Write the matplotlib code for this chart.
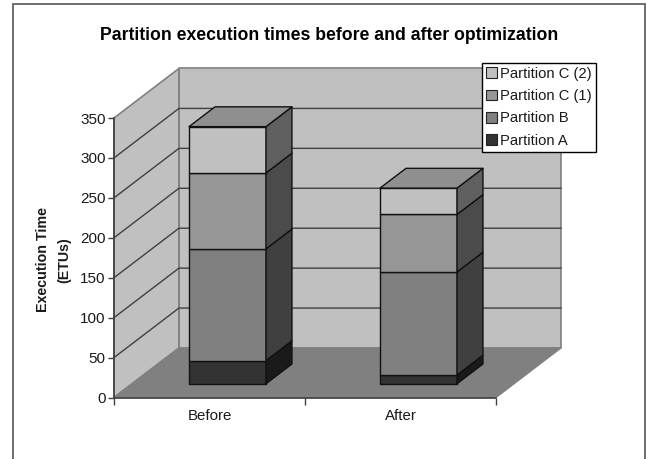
import matplotlib
matplotlib.use("Agg")
import matplotlib.pyplot as plt
from matplotlib.patches import Patch, Rectangle

plt.rcParams['font.family'] = ['Liberation Sans', 'DejaVu Sans']

title = "Partition execution times before and after optimization"
categories = ["Before", "After"]
series_names = ["Partition A", "Partition B", "Partition C (1)", "Partition C (2)"]
partition_a = [29, 11]
partition_b = [140, 129]
partition_c1 = [95, 72]
partition_c2 = [58, 33]
yticks = [0, 50, 100, 150, 200, 250, 300, 350]

front_colors = ["#333333", "#808080", "#969696", "#c0c0c0"]
side_colors = ["#1a1a1a", "#404040", "#4b4b4b", "#606060"]
top_color = "#8f8f8f"
wall_color = "#c0c0c0"
floor_color = "#808080"
text_color = "#1a1a1a"

# oblique depth, in x and y axis units for a depth of 1
DX = 0.34
DY = 62.0
bar_width = 0.403
d_front = 0.277
d_back = 0.677


def proj(x, y, d):
    return x + d * DX, y + d * DY


def face(ax, pts, color, ec, lw=1.0, z=2):
    ax.fill([p[0] for p in pts], [p[1] for p in pts], facecolor=color, edgecolor=ec,
            linewidth=lw, clip_on=False, zorder=z, joinstyle='round')


fig = plt.figure(figsize=(6.48, 4.59), dpi=100, facecolor="white")

# outer chart border, runs off the bottom of the picture
fig.add_artist(Rectangle((12.7 / 648, -0.05), 632 / 648, 1.041, transform=fig.transFigure,
                         fill=False, edgecolor="#555555", linewidth=1.2))

ax = fig.add_axes([114 / 648, (459 - 397.5) / 459, 382 / 648, 279.5 / 459])
ax.patch.set_alpha(0)
ax.set_xlim(0, 2)
ax.set_ylim(0, 350)
ymax = yticks[-1]

# walls and floor
face(ax, [proj(0, 0, 1), proj(2, 0, 1), proj(2, ymax, 1), proj(0, ymax, 1)], wall_color, "#808080", 1.2, 1)
face(ax, [proj(0, 0, 0), proj(0, 0, 1), proj(0, ymax, 1), proj(0, ymax, 0)], wall_color, "#808080", 1.2, 1)
face(ax, [proj(0, 0, 0), proj(2, 0, 0), proj(2, 0, 1), proj(0, 0, 1)], floor_color, "#808080", 1.0, 1.2)

for v in yticks[1:-1]:
    x0, y0 = proj(0, v, 0)
    x1, y1 = proj(0, v, 1)
    x2, y2 = proj(2, v, 1)
    ax.plot([x0, x1, x2], [y0, y1, y2], color="#404040", lw=1.0, clip_on=False, zorder=1.5)

# stacked 3d bars
stacks = [partition_a, partition_b, partition_c1, partition_c2]
for i in range(len(categories)):
    left = i + 0.5 - bar_width / 2
    right = i + 0.5 + bar_width / 2
    base = 0
    for s, values in enumerate(stacks):
        top = base + values[i]
        face(ax, [proj(left, base, d_front), proj(right, base, d_front),
                  proj(right, top, d_front), proj(left, top, d_front)], front_colors[s], "#111111")
        face(ax, [proj(right, base, d_front), proj(right, base, d_back),
                  proj(right, top, d_back), proj(right, top, d_front)], side_colors[s], "#111111")
        base = top
    face(ax, [proj(left, base, d_front), proj(right, base, d_front),
              proj(right, base, d_back), proj(left, base, d_back)], top_color, "#111111")

for side in ["top", "right"]:
    ax.spines[side].set_visible(False)
for side in ["left", "bottom"]:
    ax.spines[side].set_color("#404040")
    ax.spines[side].set_linewidth(1.2)
    ax.spines[side].set_zorder(3)

ax.set_yticks(yticks)
ax.tick_params(axis='y', length=4, width=1, color="#404040", labelcolor=text_color, labelsize=11, pad=2)
ax.set_xticks([0, 1, 2])
ax.set_xticklabels([])
ax.tick_params(axis='x', which='major', length=5, width=1, color="#404040")
ax.set_xticks([0.5, 1.5], categories, minor=True)
ax.tick_params(axis='x', which='minor', length=0, labelsize=10.8, labelcolor=text_color, pad=8)

fig.text(329 / 648, 1 - 35 / 459, title, ha='center', va='center', fontsize=12.7, fontweight='bold', color="black")
fig.text(53.5 / 648, 1 - 260 / 459, "Execution Time\n(ETUs)", rotation=90, ha='center', va='center',
         multialignment='center', fontsize=10.3, fontweight='bold', color=text_color, linespacing=1.6)

handles = [Patch(facecolor=c, edgecolor="#222222", linewidth=0.8) for c in front_colors]
leg = fig.legend(handles[::-1], series_names[::-1], loc='upper left',
                 bbox_to_anchor=(482 / 648, 1 - 63 / 459), frameon=True, fancybox=False,
                 edgecolor="black", framealpha=1, fontsize=10.6, borderpad=0.27, labelspacing=0.56,
                 handlelength=0.75, handleheight=0.75, handletextpad=0.2, borderaxespad=0,
                 labelcolor=text_color)
leg.get_frame().set_linewidth(1.0)
leg.set_zorder(10)

fig.savefig("out.png", dpi=100)
